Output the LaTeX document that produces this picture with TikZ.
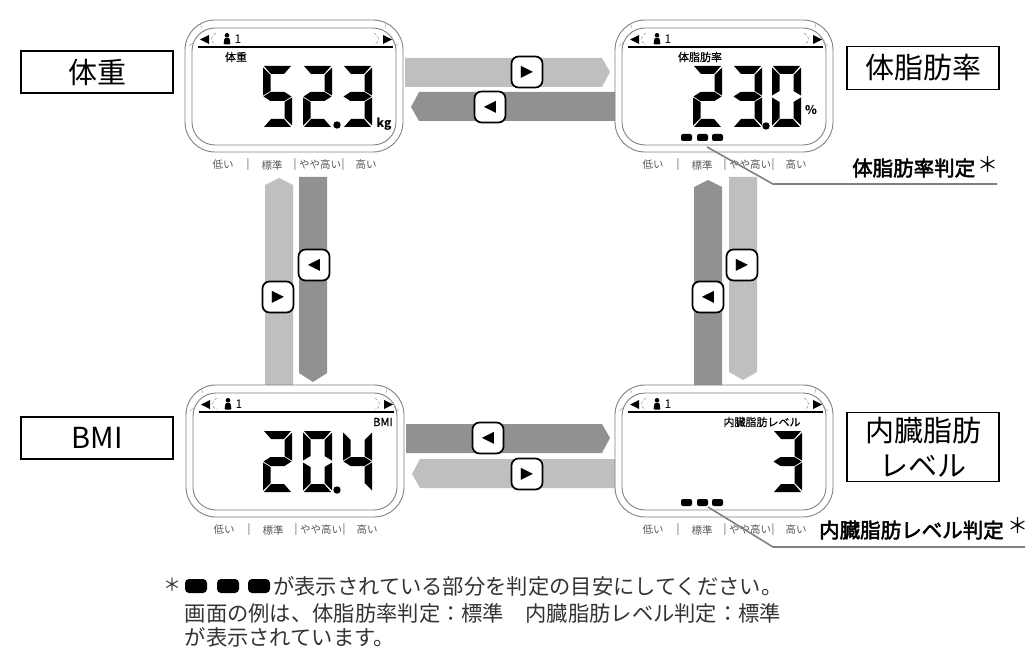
\documentclass[tikz,border=0pt]{standalone}
\usepackage{fontspec}
\setmainfont{Noto Sans CJK JP}
\newfontfamily\symfont{DejaVu Sans}
\newfontfamily\heavyfont[FakeBold=2.4]{Noto Sans CJK JP}
\newfontfamily\midfont[FakeBold=.5]{Noto Sans CJK JP}
\definecolor{barlightc}{gray}{0.75}
\definecolor{bardarkc}{gray}{0.57}
\definecolor{framec}{gray}{0.5}
\tikzset{
  barlight/.style={fill=barlightc},
  bardark/.style={fill=bardarkc},
  btn/.style={draw,line width=1.7pt,fill=white,rounded corners=7pt,minimum width=31pt,minimum height=31pt,inner sep=0pt,font=\symfont\fontsize{16}{16}\selectfont},
  titlebox/.style={draw,line width=1.5pt,minimum width=152pt,align=center,font=\fontsize{29}{35}\selectfont},
  lcdname/.style={inner sep=0pt,font=\midfont\fontsize{11}{11}\selectfont},
  level/.style={inner sep=0pt,text=black!65,font=\fontsize{10.5}{11}\selectfont},
  judge/.style={inner sep=0pt,font=\heavyfont\fontsize{20.5}{21}\selectfont},
  star/.style={inner sep=0pt,font=\fontsize{21}{21}\selectfont},
  note/.style={inner sep=0pt,anchor=west,text=black!80,font=\fontsize{21.3}{22}\selectfont},
  leader/.style={draw=black!50,line width=1.6pt},
}
% seven segment parts, 29 wide and 61 high
\newcommand\sega{(1,0)--(28,0)--(21,8)--(8,8)--cycle}
\newcommand\segb{(29,1.5)--(21.5,9)--(21.5,25)--(29,29.5)--cycle}
\newcommand\segc{(29,31.5)--(21.5,36)--(21.5,52)--(29,59.5)--cycle}
\newcommand\segd{(1,61)--(8,53)--(21,53)--(28,61)--cycle}
\newcommand\sege{(0,31.5)--(7.5,36)--(7.5,52)--(0,59.5)--cycle}
\newcommand\segf{(0,1.5)--(7.5,9)--(7.5,25)--(0,29.5)--cycle}
\newcommand\segg{(.5,30.5)--(7.5,26)--(21.5,26)--(28.5,30.5)--(21.5,35)--(7.5,35)--cycle}
\newcommand\segdigit[3]{%
  \begin{scope}[shift={(#1,#2)}]
    \foreach \s in {#3} {\fill \csname seg\s\endcsname;}
  \end{scope}}
% display frame, origin at its top left corner
\newcommand\lcdpanel[2]{%
  \begin{scope}[shift={(#1,#2)}]
    \draw[framec,line width=.9pt,rounded corners=30pt] (0,0) rectangle (218,132);
    \draw[framec,line width=.9pt,rounded corners=23pt] (7,8) rectangle (211,125);
    \draw[line width=1.1pt] (13,27) -- (208,27);
    \foreach \tx/\ty/\ux/\uy in {4/26/9/22, 15/3/17/8, 201/3/200/8, 213/26/208/22}
      \draw[black!35,line width=.5pt] (\tx,\ty) -- (\ux,\uy);
    \draw[black!45,line width=.5pt,dash pattern=on 3pt off 2pt] (31,13) .. controls (25,16) and (25,22) .. (31,25);
    \draw[black!45,line width=.5pt,dash pattern=on 3pt off 2pt] (189,13) .. controls (195,16) and (195,22) .. (189,25);
    \fill (24,15) -- (24,24) -- (15,19.5) -- cycle;
    \fill (198,15) -- (198,24) -- (207,19.5) -- cycle;
    \fill (42,15.3) circle (2.3);
    \fill[rounded corners=1pt] (38.5,24.5) -- (39.5,18) -- (44.5,18) -- (45.5,24.5) -- cycle;
    \node[inner sep=0pt,font=\fontsize{12}{12}\selectfont] at (53,19) {1};
    \node[level] at (38,145) {低い};
    \node[level] at (63,145) {|};
    \node[level] at (87,145) {標準};
    \node[level] at (110,145) {|};
    \node[level] at (135,145) {やや高い};
    \node[level] at (158,145) {|};
    \node[level] at (181,145) {高い};
  \end{scope}}
\newcommand\judgemarks[2]{%
  \begin{scope}[shift={(#1,#2)}]
    \foreach \mx in {66,82,97}
      \fill[rounded corners=2pt] (\mx,114) rectangle ++(11,7);
  \end{scope}}
\begin{document}
\begin{tikzpicture}[x=1pt,y=-1pt]
  \useasboundingbox (0,0) rectangle (1035,668);

  % arrows between the displays
  \fill[barlight] (405,58) -- (602,58) -- (610,72) -- (602,87) -- (405,87) -- cycle;
  \fill[bardark] (615,92) -- (419,92) -- (411,107) -- (419,121) -- (615,121) -- cycle;
  \fill[bardark] (406,424) -- (602,424) -- (610,438) -- (602,453) -- (406,453) -- cycle;
  \fill[barlight] (615,459) -- (420,459) -- (412,474) -- (420,488) -- (615,488) -- cycle;
  \fill[barlight] (265,385) -- (265,185) -- (279,178) -- (293,185) -- (293,385) -- cycle;
  \fill[bardark] (299,177) -- (299,373) -- (313,382) -- (327,373) -- (327,177) -- cycle;
  \fill[bardark] (694,385) -- (694,187) -- (708,180) -- (722,187) -- (722,385) -- cycle;
  \fill[barlight] (729,177) -- (729,372) -- (743,380) -- (757,372) -- (757,177) -- cycle;

  \node[btn] (btnweight) at (527,72) {▶};
  \node[btn] (btnfat) at (490,107) {◀};
  \node[btn] (btnbmi) at (278,297) {▶};
  \node[btn] (btnback) at (314,265) {◀};
  \node[btn] (btnfatb) at (708,297) {◀};
  \node[btn] (btnvis) at (742,265) {▶};
  \node[btn] (btnvisb) at (488,438) {◀};
  \node[btn] (btnbmib) at (527,474) {▶};

  \lcdpanel{185}{20}
  \lcdpanel{615}{20}
  \lcdpanel{186}{385}
  \lcdpanel{615}{385}

  % weight
  \node[lcdname] (nameweight) at (236,57) {体重};
  \segdigit{263}{66}{a,f,g,c,d}
  \segdigit{303}{66}{a,b,g,e,d}
  \segdigit{343}{66}{a,b,g,c,d}
  \fill (337,125) circle (3.7);
  \node[inner sep=0pt,font=\bfseries\fontsize{12}{12}\selectfont] (unitkg) at (384,124) {kg};

  % body fat
  \node[lcdname] (namefat) at (700,57) {体脂肪率};
  \segdigit{693}{66}{a,b,g,e,d}
  \segdigit{733}{66}{a,b,g,c,d}
  \segdigit{772}{66}{a,b,c,d,e,f}
  \fill (766,126) circle (3.7);
  \node[inner sep=0pt,font=\bfseries\fontsize{12}{12}\selectfont] (unitpct) at (811,110) {\%};
  \judgemarks{615}{20}

  % bmi
  \node[lcdname] (namebmi) at (383,422) {BMI};
  \segdigit{263}{431}{a,b,g,e,d}
  \segdigit{303}{431}{a,b,c,d,e,f}
  \segdigit{343}{431}{f,g,b,c}
  \fill (337,490) circle (3.7);

  % visceral fat
  \node[lcdname] (namevis) at (762,422) {内臓脂肪レベル};
  \segdigit{773}{431}{a,b,g,c,d}
  \judgemarks{615}{385}

  % title boxes
  \node[titlebox,minimum height=42pt] (boxweight) at (97,72) {体重};
  \node[titlebox,minimum height=43pt] (boxfat) at (923,68) {体脂肪率};
  \node[titlebox,minimum height=42pt] (boxbmi) at (97,438) {BMI};
  \node[titlebox,minimum height=69pt] (boxvis) at (923,447) {内臓脂肪\\レベル};

  % judgement labels
  \coordinate (fatfrom) at (707,147);
  \coordinate (fatbend) at (773,184);
  \coordinate (fatend) at (997,184);
  \draw[leader] (fatfrom) -- (fatbend) -- (fatend);
  \node[judge,anchor=west] (judgefat) at (852,168) {体脂肪率判定};
  \node[star] (starfat) at (988,165) {＊};
  \coordinate (visfrom) at (708,507);
  \coordinate (visbend) at (773,547);
  \coordinate (visend) at (1025,547);
  \draw[leader] (visfrom) -- (visbend) -- (visend);
  \node[judge,anchor=west] (judgevis) at (819,530) {内臓脂肪レベル判定};
  \node[star] (starvis) at (1018,526) {＊};

  % footnote
  \node[inner sep=0pt,text=black!80,font=\fontsize{18}{18}\selectfont] (notestar) at (172,585) {＊};
  \foreach \mx in {185,217,248}
    \fill[rounded corners=4pt] (\mx,579) rectangle ++(22,14);
  \node[note] (noteone) at (273,586) {が表示されている部分を判定の目安にしてください。};
  \node[note] (notetwo) at (184.5,613) {画面の例は、体脂肪率判定：標準　内臓脂肪レベル判定：標準};
  \node[note] (notethree) at (184.5,637) {が表示されています。};
\end{tikzpicture}
\end{document}
